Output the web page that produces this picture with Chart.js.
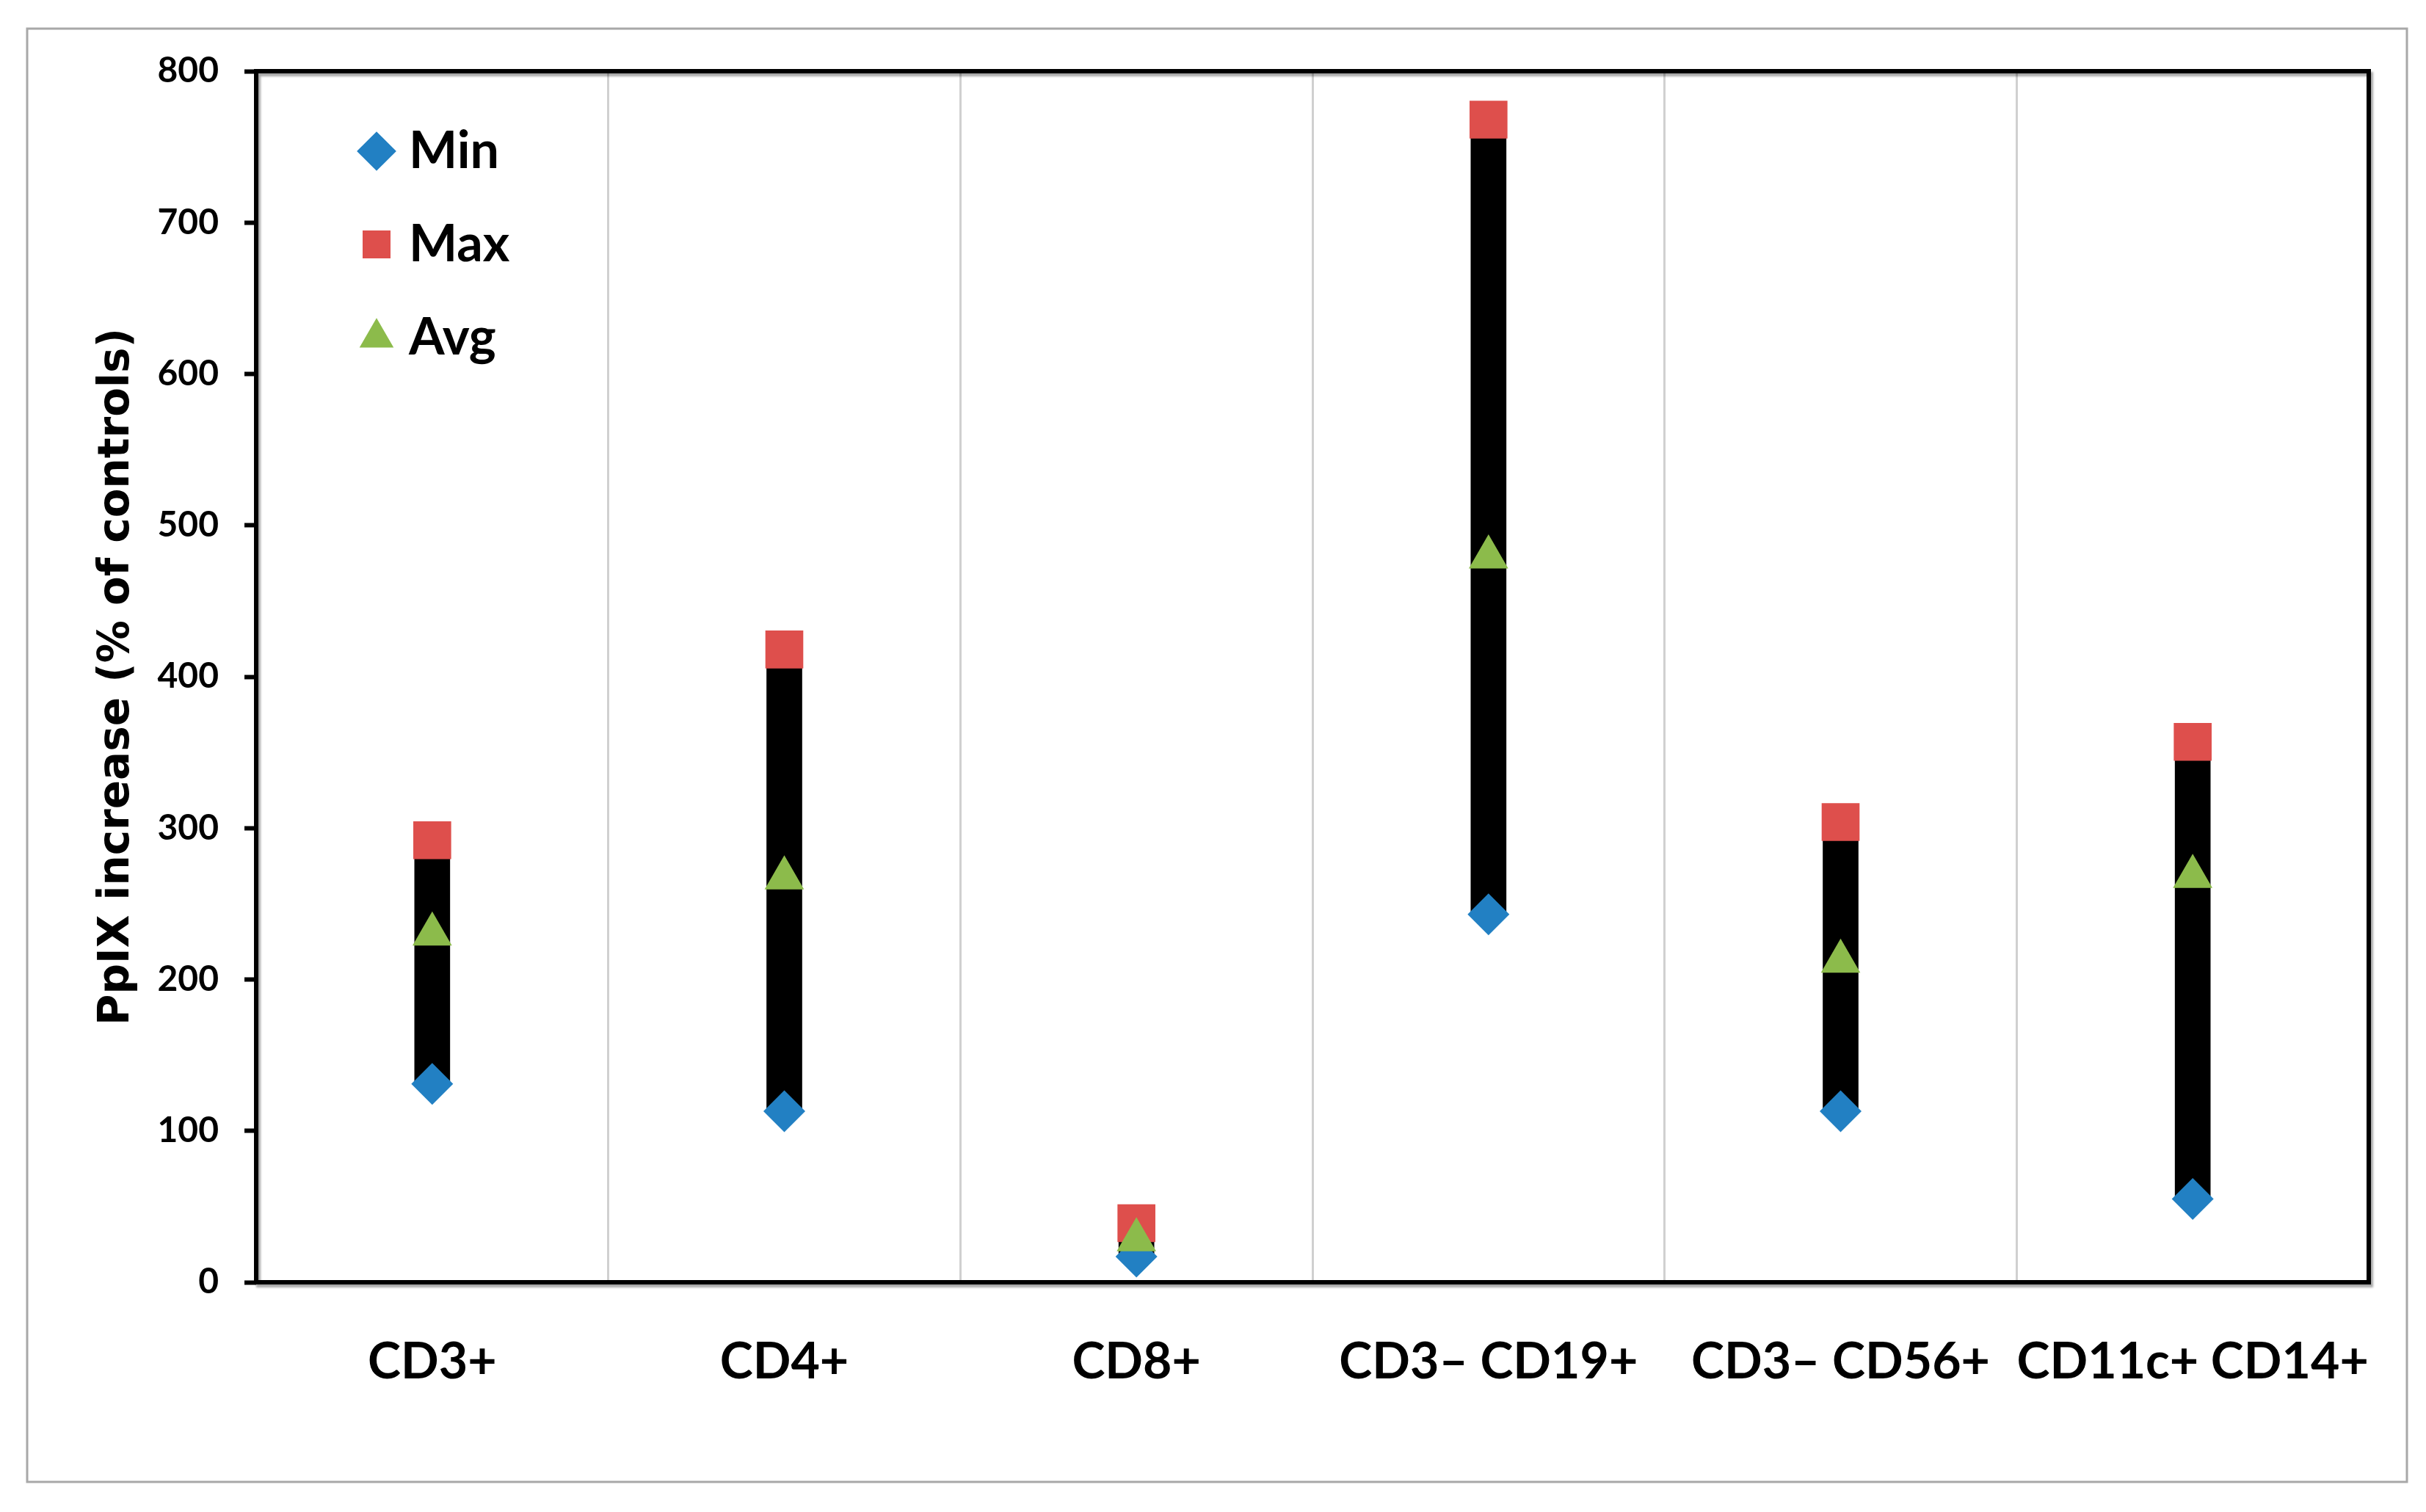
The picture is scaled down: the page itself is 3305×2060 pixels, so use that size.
<!DOCTYPE html>
<html>
<head>
<meta charset="utf-8">
<title>PpIX increase</title>
<script src="https://cdn.jsdelivr.net/npm/chart.js@4.4.1/dist/chart.umd.min.js"></script>
<style>
  html, body { margin: 0; padding: 0; background: #fff; overflow: hidden; }
  canvas { display: block; }
</style>
</head>
<body>
<canvas id="chart" width="3305" height="2060"></canvas>
<script>
// data
const cellTypes = ['CD3+', 'CD4+', 'CD8+', 'CD3– CD19+', 'CD3– CD56+', 'CD11c+ CD14+'];
const minValues = [131, 113, 17, 243, 113, 55];
const maxValues = [292, 418, 39, 768, 304, 357];
const avgValues = [230, 267, 28, 479, 212, 268];
const yTicks = [0, 100, 200, 300, 400, 500, 600, 700, 800];

const BLUE = '#2280c3';
const RED = '#de4f4c';
const GREEN = '#8cbb4b';

// background, outer frame, legend placement and plot border
const framePlugin = {
  id: 'framePlugin',
  beforeDraw(chart) {
    const ctx = chart.ctx;
    ctx.save();
    ctx.fillStyle = '#fff';
    ctx.fillRect(0, 0, chart.width, chart.height);
    ctx.strokeStyle = '#a8a8a8';
    ctx.lineWidth = 3;
    ctx.strokeRect(37, 39, 3242, 1980);
    ctx.restore();
  },
  afterLayout(chart) {
    // put the legend in the top left corner of the plot area
    const lg = chart.legend;
    const area = chart.chartArea;
    lg.left = area.left + 98;
    lg.right = lg.left + lg.width;
    lg.top = area.top + 17;
    lg.bottom = lg.top + 600;
  },
  afterDraw(chart) {
    const ctx = chart.ctx;
    const a = chart.chartArea;
    ctx.save();
    ctx.shadowColor = 'rgba(0,0,0,0.35)';
    ctx.shadowOffsetX = 3;
    ctx.shadowOffsetY = 4;
    ctx.shadowBlur = 3;
    ctx.strokeStyle = '#000';
    ctx.lineWidth = 6;
    ctx.strokeRect(a.left, a.top, a.right - a.left, a.bottom - a.top);
    ctx.restore();
  }
};

const ctx = document.getElementById('chart').getContext('2d');

const chart = new Chart(ctx, {
  type: 'bar',
  data: {
    labels: cellTypes,
    datasets: [
      {
        type: 'line',
        label: 'Min',
        data: minValues,
        showLine: false,
        pointStyle: 'rectRot',
        pointRadius: 28.5,
        pointBackgroundColor: BLUE,
        backgroundColor: BLUE,
        borderColor: BLUE,
        pointBorderWidth: 0,
        order: 2
      },
      {
        type: 'line',
        label: 'Max',
        data: maxValues,
        showLine: false,
        pointStyle: 'rect',
        pointRadius: 36.5,
        pointBackgroundColor: RED,
        backgroundColor: RED,
        borderColor: RED,
        pointBorderWidth: 0,
        order: 3
      },
      {
        type: 'line',
        label: 'Avg',
        data: avgValues,
        showLine: false,
        pointStyle: 'triangle',
        pointRadius: 31,
        pointBackgroundColor: GREEN,
        backgroundColor: GREEN,
        borderColor: GREEN,
        pointBorderWidth: 0,
        order: 1
      },
      {
        type: 'bar',
        label: 'range',
        data: cellTypes.map((c, i) => [minValues[i], maxValues[i]]),
        backgroundColor: '#000',
        borderWidth: 0,
        barThickness: 48,
        order: 4
      }
    ]
  },
  options: {
    responsive: false,
    devicePixelRatio: 1,
    animation: false,
    events: [],
    layout: {
      padding: { left: 125, right: 78, top: 97, bottom: 0 }
    },
    plugins: {
      tooltip: { enabled: false },
      legend: {
        display: true,
        position: 'chartArea',
        align: 'start',
        labels: {
          usePointStyle: true,
          boxWidth: 18,
          boxHeight: 38,
          padding: 57,
          color: '#000',
          font: { family: 'Lato', size: 70, weight: 'bold' },
          filter: item => item.text !== 'range',
          sort: (a, b) => a.datasetIndex - b.datasetIndex
        }
      }
    },
    scales: {
      x: {
        offset: true,
        grid: {
          display: true,
          offset: true,
          drawTicks: false,
          color: '#d0d0d0',
          lineWidth: 3
        },
        border: { display: false },
        ticks: {
          color: '#000',
          padding: 68,
          maxRotation: 0,
          autoSkip: false,
          font: { family: 'Lato', size: 68, weight: 'bold' }
        },
        afterFit(scale) {
          scale.height = 313;
        }
      },
      y: {
        min: 0,
        max: 800,
        afterBuildTicks(scale) {
          scale.ticks = yTicks.map(v => ({ value: v }));
        },
        grid: {
          display: true,
          drawOnChartArea: false,
          drawTicks: true,
          tickLength: 16,
          tickWidth: 6,
          tickColor: '#000'
        },
        border: { display: false },
        ticks: {
          color: '#000',
          padding: 35,
          font: { family: 'Lato', size: 48, weight: 'bold' }
        },
        title: {
          display: true,
          text: 'PpIX increase (% of controls)',
          color: '#000',
          padding: 0,
          font: { family: 'DejaVu Sans', size: 58, weight: 'bold' }
        },
        afterFit(scale) {
          scale.width = 224;
        }
      }
    }
  },
  plugins: [framePlugin]
});
</script>
</body>
</html>
